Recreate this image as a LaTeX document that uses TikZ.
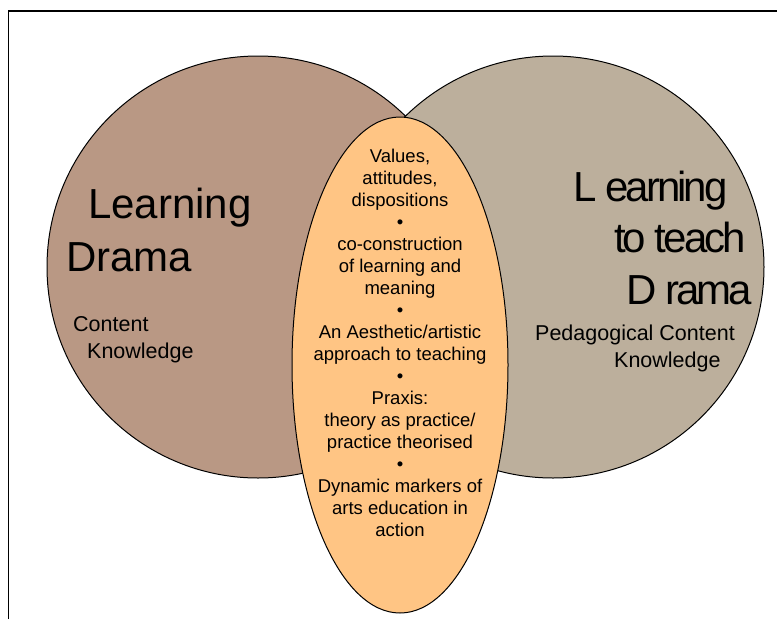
\documentclass[tikz,border=0pt]{standalone}
\usepackage{fontspec}
\setmainfont{Liberation Sans}
\usetikzlibrary{shapes.geometric}
\definecolor{learnfill}{HTML}{B99884}
\definecolor{teachfill}{HTML}{BCAF9C}
\definecolor{lensfill}{HTML}{FFC584}
\tikzset{ring/.style = {circle, draw, line width=1pt, minimum size=422pt, inner sep=0pt},
           lens/.style = {ellipse, draw, line width=1pt, fill=lensfill, minimum width=216pt, minimum height=496pt, inner sep=0pt},
           big/.style = {inner sep=0pt, font=\fontsize{42}{52}\selectfont},
           tight/.style = {inner sep=0pt, font=\fontsize{42}{52}\selectfont\addfontfeature{LetterSpace=-7}},
           small/.style = {inner sep=0pt, font=\fontsize{21.5}{27}\selectfont}}

\begin{document}
\begin{tikzpicture}[x=1pt, y=-1pt]
    \useasboundingbox (0,0) rectangle (777,619);
    % frame
    \draw[line width=1.5pt] (8.5,619) -- (8.5,11) -- (777,11);
    % the two circles and the overlap
    \node[ring, fill=learnfill] (learn) at (258,267) {};
    \node[ring, fill=teachfill] (teach) at (553,267) {};
    \node[lens] (both) at (400,365) {};
    % left circle
    \node[big, anchor=base west] (l1) at (88,218) {Learning};
    \node[big, anchor=base west] (l2) at (66,271) {Drama};
    \node[small, anchor=base west] (ck1) at (73,331) {Content};
    \node[small, anchor=base west] (ck2) at (87,358) {Knowledge};
    % right circle
    \node[tight, anchor=base west] (r1) at (573,201) {L earning};
    \node[tight, anchor=base west] (r2) at (614,252) {to teach};
    \node[tight, anchor=base west] (r3) at (626,304) {D rama};
    \node[small, anchor=base west] (pck1) at (535,340) {Pedagogical Content};
    \node[small, anchor=base west] (pck2) at (614,367) {Knowledge};
    % overlap text
    \node[inner sep=0pt, align=center, font=\fontsize{18.5}{22}\selectfont] (shared) at (400,343)
      {Values,\\attitudes,\\dispositions\\•\\co-construction\\of learning and\\meaning\\•\\An Aesthetic/artistic\\approach to teaching\\•\\Praxis:\\theory as practice/\\practice theorised\\•\\Dynamic markers of\\arts education in\\action};
\end{tikzpicture}
\end{document}
